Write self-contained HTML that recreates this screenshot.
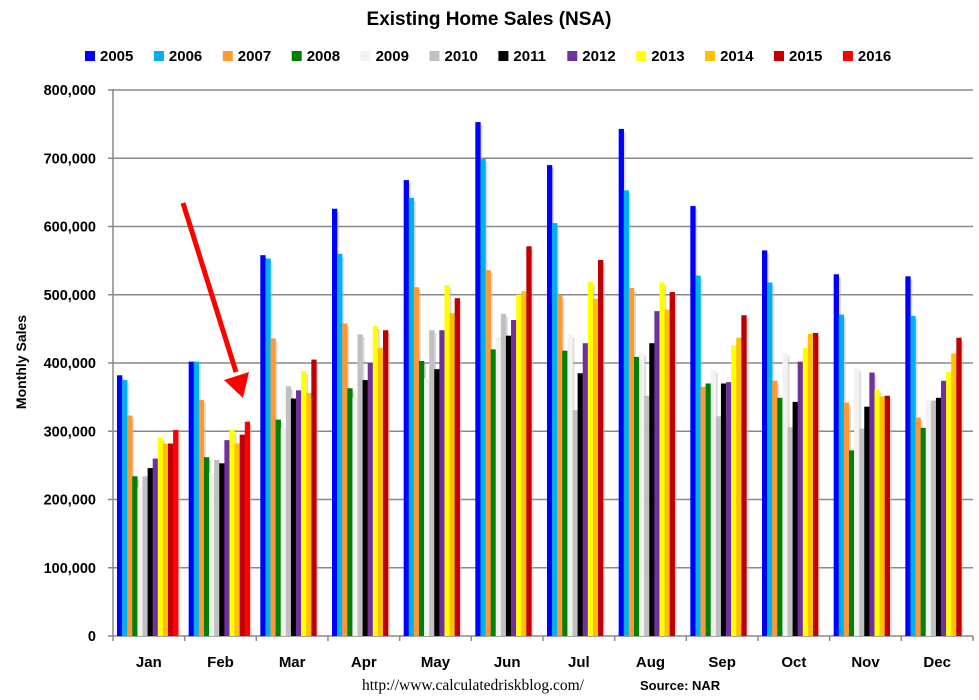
<!DOCTYPE html>
<html><head><meta charset="utf-8"><style>
body{margin:0;background:#fff;}
svg{display:block;font-family:"Liberation Sans",sans-serif;}
</style></head><body>
<svg id="c" width="979" height="700" xmlns="http://www.w3.org/2000/svg"></svg>
<script>
const s=document.getElementById('c');
let h='';
const colors=['#0000FF','#00B0F0','#FF9933','#008000','#F2F2F2','#C0C0C0','#000000','#7030A0','#FFFF00','#FFC000','#C00000','#FF0000'];
const years=[2005,2006,2007,2008,2009,2010,2011,2012,2013,2014,2015,2016];
const months=['Jan','Feb','Mar','Apr','May','Jun','Jul','Aug','Sep','Oct','Nov','Dec'];
const data=[
[382,375,323,234,218,234,246,260,291,282,282,302],
[402,402,346,262,239,258,253,287,303,282,295,314],
[558,553,436,317,305,366,348,360,388,356,405],
[626,560,458,363,349,442,375,400,454,422,448],
[668,642,511,403,377,448,391,448,514,473,495],
[753,699,536,420,438,472,440,463,500,505,571],
[690,605,500,418,442,331,385,429,519,494,551],
[743,653,510,409,415,352,429,476,518,478,504],
[630,528,365,370,390,322,370,372,426,437,470],
[565,518,374,349,415,306,343,402,422,443,444],
[530,471,342,272,392,304,336,386,361,351,352],
[527,469,320,305,345,345,349,374,387,414,437]];
const x0=113,x1=973,y0=636,sc=0.6825,gw=(x1-x0)/12,bw=5.1;
h+='<text x="489" y="25" text-anchor="middle" font-size="19" font-weight="bold">Existing Home Sales (NSA)</text>';
years.forEach((y,i)=>{const lx=85+i*68.9;h+=`<rect x="${lx}" y="51" width="10" height="10" fill="${colors[i]}"/><text x="${lx+15}" y="61" font-size="15" font-weight="bold">${y}</text>`;});
for(let k=0;k<=8;k++){const y=y0-k*100*sc;h+=`<line x1="108" x2="${x1}" y1="${y}" y2="${y}" stroke="#888" stroke-width="1.5"/>`;
h+=`<text x="96" y="${y+5}" text-anchor="end" font-size="14.5" font-weight="bold">${k==0?'0':(k*100)+',000'}</text>`;}
h+=`<line x1="${x0}" x2="${x0}" y1="89" y2="${y0}" stroke="#888" stroke-width="1.5"/>`;
for(let m=0;m<=12;m++){const x=x0+m*gw;h+=`<line x1="${x}" x2="${x}" y1="${y0}" y2="${y0+5}" stroke="#888" stroke-width="1.5"/>`;}
data.forEach((d,m)=>{const gx=x0+m*gw+4;
d.forEach((v,i)=>{const bh=v*sc;const x=gx+i*bw;h+=`<rect x="${x+2}" y="${y0-bh+3}" width="${bw}" height="${bh-3}" fill="#bbb" opacity="0.5"/>`;});
d.forEach((v,i)=>{const bh=v*sc;const x=gx+i*bw;h+=`<rect x="${x}" y="${y0-bh}" width="${bw+0.2}" height="${bh}" fill="${colors[i]}"/>`;});
h+=`<text x="${x0+m*gw+gw/2}" y="667" text-anchor="middle" font-size="15" font-weight="bold">${months[m]}</text>`;});
h+='<text transform="translate(26,362) rotate(-90)" text-anchor="middle" font-size="14" font-weight="bold">Monthly Sales</text>';
h+='<line x1="183" y1="203" x2="236" y2="372" stroke="#FF0000" stroke-width="5"/><polygon points="224,380 249,372 243,398" fill="#FF0000"/>';
h+='<text x="362" y="690" font-family="Liberation Serif,serif" font-size="15.5">http://www.calculatedriskblog.com/</text>';
h+='<text x="640" y="690" font-size="13" font-weight="bold">Source: NAR</text>';
s.innerHTML=h;
</script>
</body></html>
